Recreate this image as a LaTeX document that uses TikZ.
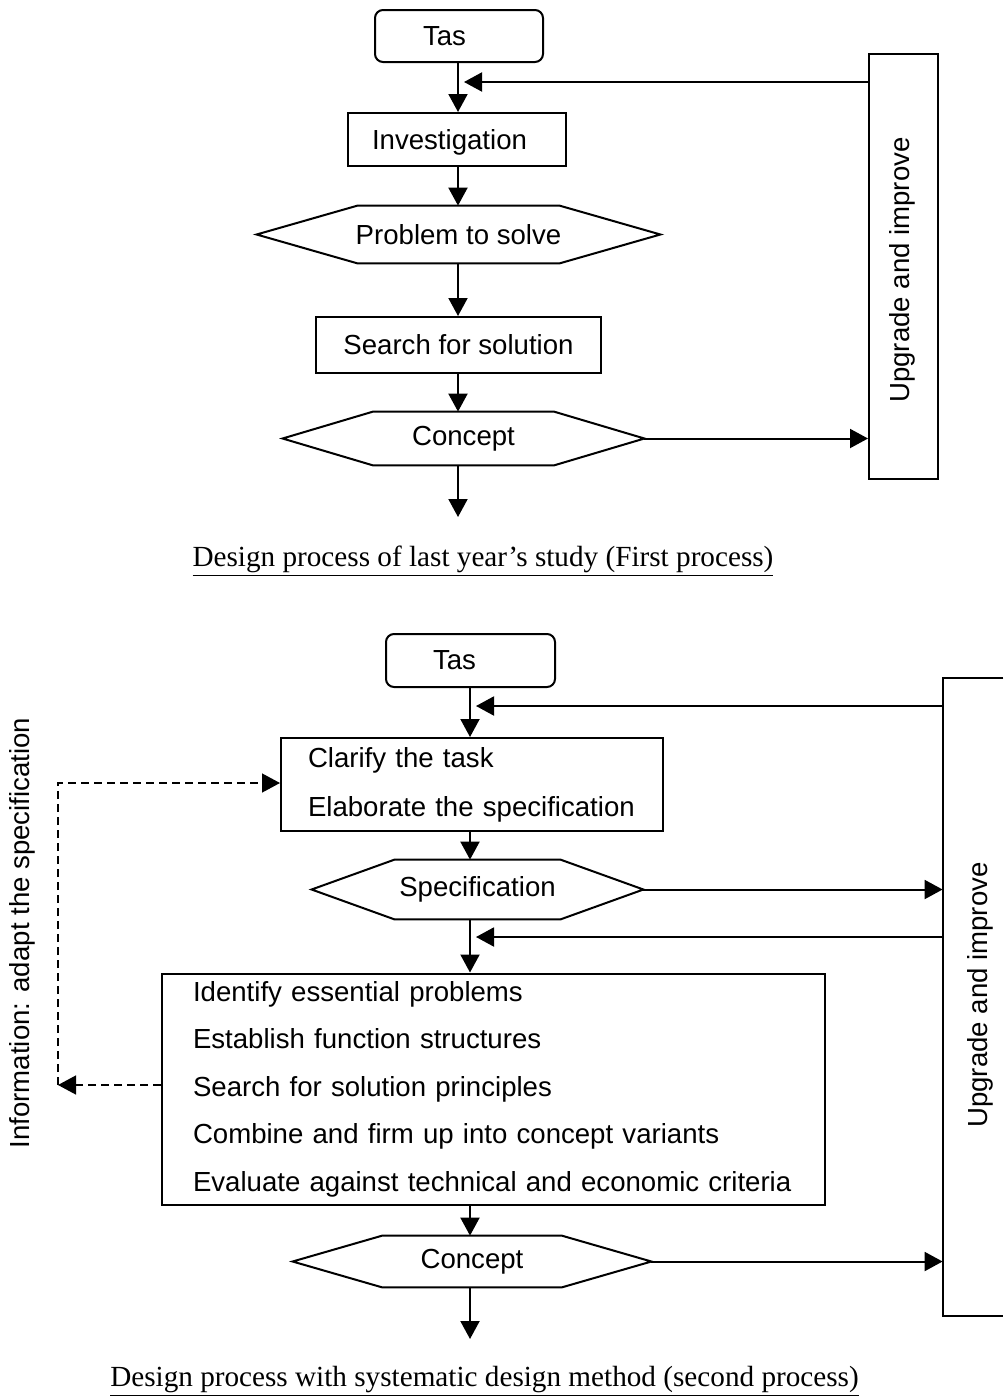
\documentclass[tikz,border=0pt]{standalone}
\usepackage{fontspec}
\setmainfont{Liberation Serif}
\newfontfamily\arialf{Liberation Sans}
\usetikzlibrary{arrows.meta,calc}
\newcommand\hexline[1]{\draw[ln] (#1.west) -- ($(#1.north west)!0.25!(#1.north east)$) -- ($(#1.north west)!0.75!(#1.north east)$) -- (#1.east) -- ($(#1.south west)!0.75!(#1.south east)$) -- ($(#1.south west)!0.25!(#1.south east)$) -- cycle;}
\begin{document}
\begin{tikzpicture}[x=0.5pt,y=-0.5pt,
  ln/.style={line width=1pt},
  arr/.style={ln,-{Triangle[length=9pt,width=9.5pt]}},
  dasharr/.style={line width=0.7pt,dash pattern=on 4pt off 2.5pt,-{Triangle[length=9pt,width=9.5pt]}},
  txt/.style={font=\arialf\fontsize{13.8}{16}\selectfont},
  boxn/.style={txt,draw,line width=1pt,inner ysep=0pt,inner xsep=0pt},
  hexn/.style={txt,inner sep=0pt},
  captxt/.style={font=\fontsize{14.6}{17}\selectfont,anchor=base}]
\useasboundingbox (0,0) rectangle (1003,1397);

% ---------- first process ----------
\coordinate (m1) at (458,0);
\node[boxn,rounded corners=4pt,minimum width=84pt,minimum height=26pt,text width=36pt,inner xsep=24pt,align=left] (tas1) at (459,36) {Tas};
\node[boxn,minimum width=109pt,minimum height=26.5pt,text width=85pt,inner xsep=12pt,align=left,text depth=0.5pt] (inv) at (457,139.5) {Investigation};
\node[hexn,minimum width=201.5pt,minimum height=28.5pt] (prob) at (458.5,234.5) {Problem to solve};
\hexline{prob}
\node[boxn,minimum width=142.5pt,minimum height=28pt] (search) at (458.5,345) {Search for solution};
\node[hexn,minimum width=180.5pt,minimum height=26.5pt] (con1) at (463.5,438.5) {Concept};
\hexline{con1}
\node[draw,line width=1pt,minimum width=34.5pt,minimum height=212.5pt,inner sep=0pt] (upg1) at (903.5,266.5) {};
\node[txt,rotate=90] (upg1t) at (902,270) {Upgrade and improve};

\coordinate (fb1) at (464,82);
\coordinate (end1) at (458,517);
\draw[arr] (tas1.south -| m1) -- (inv.north -| m1);
\draw[arr] (inv.south -| m1) -- (prob.north -| m1);
\draw[arr] (prob.south -| m1) -- (search.north -| m1);
\draw[arr] (search.south -| m1) -- (con1.north -| m1);
\draw[arr] (con1.south -| m1) -- (end1);
\draw[arr] (upg1.west |- fb1) -- (fb1);
\draw[arr] (con1.east) -- (upg1.west |- con1.east);

\node[captxt] (cap1) at (483,566) {\underline{Design process of last year’s study (First process)}};

% ---------- second process ----------
\coordinate (m2) at (470,0);
\node[boxn,rounded corners=4pt,minimum width=84.5pt,minimum height=26.5pt,text width=37.5pt,inner xsep=23.5pt,align=left] (tas2) at (470.5,660.5) {Tas};
\node[boxn,minimum width=191pt,minimum height=46.5pt,text width=164pt,inner xsep=13.5pt,align=left,font=\arialf\fontsize{13.8}{24.5}\selectfont] (clar) at (472,784.5) {Clarify the task\\Elaborate the specification};
\node[hexn,minimum width=165.5pt,minimum height=29.5pt] (spec) at (477.5,889.5) {Specification};
\hexline{spec}
\node[boxn,minimum width=331.5pt,minimum height=115.5pt,text width=300.5pt,inner xsep=15.5pt,align=left,font=\arialf\fontsize{13.8}{23.75}\selectfont] (big) at (493.5,1089) {Identify essential problems\\Establish function structures\\Search for solution principles\\Combine and firm up into concept variants\\Evaluate against technical and economic criteria};
\node[hexn,minimum width=179pt,minimum height=25.5pt] (con2) at (472,1261.5) {Concept};
\hexline{con2}
\node[minimum width=30pt,minimum height=319pt,inner sep=0pt] (upg2) at (973,997) {};
\draw[ln] (upg2.north east) -- (upg2.north west) -- (upg2.south west) -- (upg2.south east);
\node[txt,rotate=90] (upg2t) at (980,995) {Upgrade and improve};
\node[txt,rotate=90] (info) at (22,933) {Information: adapt the specification};

\coordinate (fb2) at (476,706);
\coordinate (fb3) at (476,937);
\coordinate (end2) at (470,1339);
\draw[arr] (tas2.south -| m2) -- (clar.north -| m2);
\draw[arr] (clar.south -| m2) -- (spec.north -| m2);
\draw[arr] (spec.south -| m2) -- (big.north -| m2);
\draw[arr] (big.south -| m2) -- (con2.north -| m2);
\draw[arr] (con2.south -| m2) -- (end2);
\draw[arr] (upg2.west |- fb2) -- (fb2);
\draw[arr] (upg2.west |- fb3) -- (fb3);
\draw[arr] (spec.east) -- (upg2.west |- spec.east);
\draw[arr] (con2.east) -- (upg2.west |- con2.east);

\coordinate (dl) at (58,1085);
\coordinate (dt) at (58,783);
\draw[dasharr] (big.west |- dl) -- (dl);
\draw[dasharr] (dl) -- (dt) -- (clar.west |- dt);

\node[captxt] (cap2) at (484.5,1386) {\underline{Design process with systematic design method (second process)}};
\end{tikzpicture}
\end{document}
